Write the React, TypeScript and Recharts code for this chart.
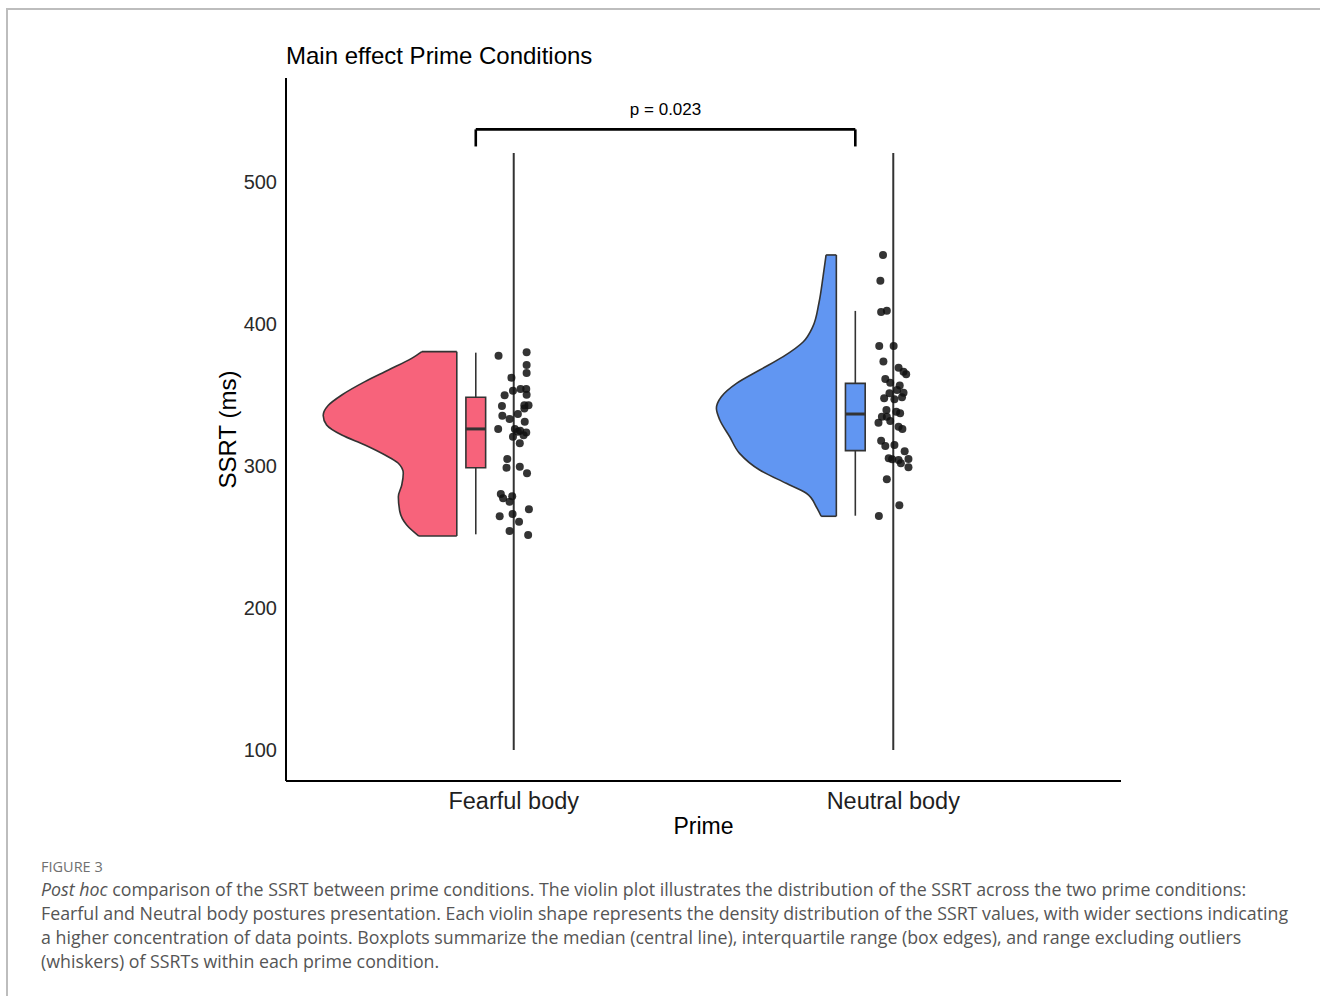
import React from 'react';
import { ComposedChart, XAxis, YAxis, Area, Scatter, ReferenceLine, ReferenceArea } from 'recharts';

// ---------- data ----------
const categories = ['Fearful body', 'Neutral body'];
const categoryPositions = [1, 2];
const yTicks = [100, 200, 300, 400, 500];

// half-violin density profiles (SSRT level, width in category units)
const fearfulViolinLevels = [250.7, 258.5, 267.8, 278.4, 286.6, 294.9, 301.9, 307.7, 314.8, 321.8, 328.9, 335.6, 342.6, 350.0, 359.4, 367.6, 375.8, 380.5];
const fearfulViolinWidths = [0.100, 0.132, 0.150, 0.154, 0.145, 0.141, 0.154, 0.189, 0.242, 0.303, 0.343, 0.352, 0.339, 0.303, 0.242, 0.180, 0.119, 0.092];
const neutralViolinLevels = [264.6, 271.3, 280.8, 287.8, 297.2, 308.9, 320.6, 332.4, 340.6, 348.8, 358.2, 367.6, 377.0, 387.5, 398.1, 414.6, 433.3, 448.6];
const neutralViolinWidths = [0.040, 0.053, 0.079, 0.132, 0.202, 0.255, 0.281, 0.307, 0.316, 0.303, 0.263, 0.202, 0.140, 0.087, 0.062, 0.046, 0.035, 0.027];

// boxplot stats: [min, q1, median, q3, max]
const fearfulBox = [251.9, 298.8, 326.1, 348.4, 379.8];
const neutralBox = [265.0, 310.8, 336.6, 358.2, 409.2];

// jittered raw points
const fearfulJitter = [-0.040, 0.034, 0.034, 0.034, -0.006, -0.002, -0.024, 0.018, 0.033, 0.034, -0.031, -0.030, 0.028, 0.039, 0.011, -0.011, 0.029, -0.041, 0.003, 0.011, 0.017, -0.002, 0.033, 0.026, 0.016, -0.017, -0.019, 0.016, 0.035, -0.034, -0.028, -0.004, -0.011, 0.040, -0.037, -0.003, 0.014, -0.011, 0.038, 0.028];
const fearfulSSRT = [377.7, 380.1, 371.1, 365.5, 362.2, 353.0, 349.8, 354.2, 354.2, 350.2, 342.3, 335.4, 342.7, 342.7, 336.6, 333.1, 331.2, 326.1, 326.1, 324.2, 324.9, 320.6, 323.5, 321.6, 316.0, 304.9, 298.8, 299.5, 294.9, 280.3, 277.3, 278.7, 274.9, 269.5, 264.6, 266.2, 260.8, 254.2, 251.4, 340.4];
const neutralJitter = [-0.027, -0.034, -0.032, -0.017, -0.037, 0.001, -0.026, 0.014, 0.027, 0.034, -0.021, -0.008, 0.017, 0.027, -0.010, -0.024, 0.003, 0.023, 0.010, -0.018, -0.030, -0.039, -0.017, -0.008, 0.008, 0.018, 0.014, 0.024, -0.032, -0.021, 0.003, 0.030, -0.012, -0.003, 0.014, 0.020, 0.040, 0.040, -0.017, 0.016, -0.038];
const neutralSSRT = [448.6, 430.5, 408.5, 409.4, 384.5, 384.5, 373.5, 369.2, 366.4, 364.6, 361.3, 358.7, 356.6, 351.6, 351.2, 347.7, 347.0, 348.4, 353.5, 339.4, 334.7, 330.5, 334.7, 331.7, 338.2, 337.1, 327.7, 326.1, 317.8, 314.1, 314.8, 310.4, 305.4, 304.7, 304.2, 301.9, 304.9, 299.1, 290.6, 272.3, 264.8];

// significance annotation
const pLabel = 'p = 0.023';
const bracketTop = 537;
const bracketBottom = 525;
const refLineRange = [100, 520.4];

// ---------- layout constants ----------
const VIOLIN_OFFSET = -0.15;
const BOX_OFFSET = -0.1;
const BOX_HALF = 0.026;
const FEAR_COLOR = '#F7637B';
const NEUT_COLOR = '#6196F2';
const OUTLINE = '#333333';
const FONT = '"Liberation Sans", Arial, Helvetica, sans-serif';
const CAPTION_FONT = '"Open Sans", "Noto Sans", sans-serif';

const fearRight = categoryPositions[0] + VIOLIN_OFFSET;
const neutRight = categoryPositions[1] + VIOLIN_OFFSET;

const violinData = [
  ...fearfulViolinLevels.map((y, i) => ({ y, fearful: [fearRight - fearfulViolinWidths[i], fearRight], neutral: [null, null] })),
  ...neutralViolinLevels.map((y, i) => ({ y, fearful: [null, null], neutral: [neutRight - neutralViolinWidths[i], neutRight] })),
];

const fearfulPoints = fearfulSSRT.map((y, i) => ({ x: categoryPositions[0] + fearfulJitter[i], y }));
const neutralPoints = neutralSSRT.map((y, i) => ({ x: categoryPositions[1] + neutralJitter[i], y }));

const Dot = (p: any) => <circle cx={p.cx} cy={p.cy} r={4} fill="#111" fillOpacity={0.85} />;

function violinEdges(levels: number[], widths: number[], right: number, key: string) {
  const lo = 0;
  const hi = levels.length - 1;
  return [
    <ReferenceLine key={key + 'b'} segment={[{ x: right - widths[lo], y: levels[lo] }, { x: right, y: levels[lo] }]} stroke={OUTLINE} strokeWidth={1.6} ifOverflow="visible" />,
    <ReferenceLine key={key + 't'} segment={[{ x: right - widths[hi], y: levels[hi] }, { x: right, y: levels[hi] }]} stroke={OUTLINE} strokeWidth={1.6} ifOverflow="visible" />,
  ];
}

function boxPlot(stats: number[], pos: number, color: string, key: string) {
  const cx = pos + BOX_OFFSET;
  const [mn, q1, med, q3, mx] = stats;
  return [
    <ReferenceLine key={key + 'w1'} segment={[{ x: cx, y: mn }, { x: cx, y: q1 }]} stroke={OUTLINE} strokeWidth={1.6} ifOverflow="visible" />,
    <ReferenceLine key={key + 'w2'} segment={[{ x: cx, y: q3 }, { x: cx, y: mx }]} stroke={OUTLINE} strokeWidth={1.6} ifOverflow="visible" />,
    <ReferenceArea key={key + 'box'} x1={cx - BOX_HALF} x2={cx + BOX_HALF} y1={q1} y2={q3} fill={color} fillOpacity={1} stroke={OUTLINE} strokeWidth={1.6} ifOverflow="visible" />,
    <ReferenceLine key={key + 'med'} segment={[{ x: cx - BOX_HALF, y: med }, { x: cx + BOX_HALF, y: med }]} stroke={OUTLINE} strokeWidth={3} ifOverflow="visible" />,
  ];
}

const captionLines = [
  [<i key="i">Post hoc</i>, ' comparison of the SSRT between prime conditions. The violin plot illustrates the distribution of the SSRT across the two prime conditions:'],
  ['Fearful and Neutral body postures presentation. Each violin shape represents the density distribution of the SSRT values, with wider sections indicating'],
  ['a higher concentration of data points. Boxplots summarize the median (central line), interquartile range (box edges), and range excluding outliers'],
  ['(whiskers) of SSRTs within each prime condition.'],
];

export default function App() {
  return (
    <div style={{ position: 'absolute', left: 0, top: 0, width: 1320, height: 996, background: '#fff', overflow: 'hidden' }}>
      <div style={{ position: 'absolute', left: 6, top: 8, width: 1314, height: 988, borderTop: '2px solid #bdbdbd', borderLeft: '2px solid #bdbdbd' }} />
      <div style={{ position: 'absolute', left: 286, top: 44, fontFamily: FONT, fontSize: 24, lineHeight: '24px', color: '#000', whiteSpace: 'nowrap' }}>
        Main effect Prime Conditions
      </div>
      <div style={{ position: 'absolute', left: 0, top: 0 }}>
        <ComposedChart layout="vertical" width={1320} height={860} data={violinData} margin={{ top: 78, right: 199, bottom: 19, left: 206 }}>
          <XAxis
            type="number"
            dataKey="x"
            domain={[0.4, 2.6]}
            allowDataOverflow
            ticks={categoryPositions}
            interval={0}
            tickFormatter={(v: number) => categories[categoryPositions.indexOf(v)] ?? ''}
            tickLine={false}
            axisLine={{ stroke: '#000', strokeWidth: 2 }}
            tick={{ fill: '#1f1f1f', fontSize: 23.5, fontFamily: FONT }}
            tickMargin={5}
            height={60}
            label={{ value: 'Prime', position: 'insideBottom', offset: 7, style: { fontSize: 23, fontFamily: FONT, fill: '#000' } }}
          />
          <YAxis
            type="number"
            dataKey="y"
            domain={[78.2, 573.2]}
            allowDataOverflow
            reversed
            ticks={yTicks}
            interval={0}
            tickLine={false}
            axisLine={{ stroke: '#000', strokeWidth: 2 }}
            tick={{ fill: '#2a2a2a', fontSize: 20, fontFamily: FONT }}
            tickMargin={3}
            width={80}
            label={{ value: 'SSRT (ms)', angle: -90, position: 'insideLeft', offset: 21, style: { textAnchor: 'middle', fontSize: 24, fontFamily: FONT, fill: '#000' } }}
          />
          <Area dataKey="fearful" type="monotone" fill={FEAR_COLOR} fillOpacity={1} stroke={OUTLINE} strokeWidth={1.6} isAnimationActive={false} dot={false} activeDot={false} />
          <Area dataKey="neutral" type="monotone" fill={NEUT_COLOR} fillOpacity={1} stroke={OUTLINE} strokeWidth={1.6} isAnimationActive={false} dot={false} activeDot={false} />
          {violinEdges(fearfulViolinLevels, fearfulViolinWidths, fearRight, 'fv')}
          {violinEdges(neutralViolinLevels, neutralViolinWidths, neutRight, 'nv')}
          {boxPlot(fearfulBox, categoryPositions[0], FEAR_COLOR, 'fb')}
          {boxPlot(neutralBox, categoryPositions[1], NEUT_COLOR, 'nb')}
          <ReferenceLine segment={[{ x: categoryPositions[0], y: refLineRange[0] }, { x: categoryPositions[0], y: refLineRange[1] }]} stroke={OUTLINE} strokeWidth={2} ifOverflow="visible" />
          <ReferenceLine segment={[{ x: categoryPositions[1], y: refLineRange[0] }, { x: categoryPositions[1], y: refLineRange[1] }]} stroke={OUTLINE} strokeWidth={2} ifOverflow="visible" />
          <ReferenceLine segment={[{ x: categoryPositions[0] + BOX_OFFSET, y: bracketBottom }, { x: categoryPositions[0] + BOX_OFFSET, y: bracketTop }]} stroke="#000" strokeWidth={2.6} ifOverflow="visible" />
          <ReferenceLine segment={[{ x: categoryPositions[1] + BOX_OFFSET, y: bracketBottom }, { x: categoryPositions[1] + BOX_OFFSET, y: bracketTop }]} stroke="#000" strokeWidth={2.6} ifOverflow="visible" />
          <ReferenceLine
            segment={[{ x: categoryPositions[0] + BOX_OFFSET, y: bracketTop }, { x: categoryPositions[1] + BOX_OFFSET, y: bracketTop }]}
            stroke="#000"
            strokeWidth={2.6}
            ifOverflow="visible"
            label={{ value: pLabel, position: 'top', offset: 14, style: { fontSize: 17, fontFamily: FONT, fill: '#000' } }}
          />
          <Scatter data={fearfulPoints} shape={Dot} isAnimationActive={false} />
          <Scatter data={neutralPoints} shape={Dot} isAnimationActive={false} />
        </ComposedChart>
      </div>
      <div style={{ position: 'absolute', left: 41, top: 860, fontFamily: CAPTION_FONT, fontSize: 14.5, lineHeight: '14px', color: '#707070', whiteSpace: 'nowrap' }}>
        FIGURE 3
      </div>
      <div style={{ position: 'absolute', left: 41, top: 877, fontFamily: CAPTION_FONT, fontSize: 17.8, lineHeight: '24px', color: '#555', whiteSpace: 'nowrap' }}>
        {captionLines.map((l, i) => (
          <div key={i}>{l}</div>
        ))}
      </div>
    </div>
  );
}
